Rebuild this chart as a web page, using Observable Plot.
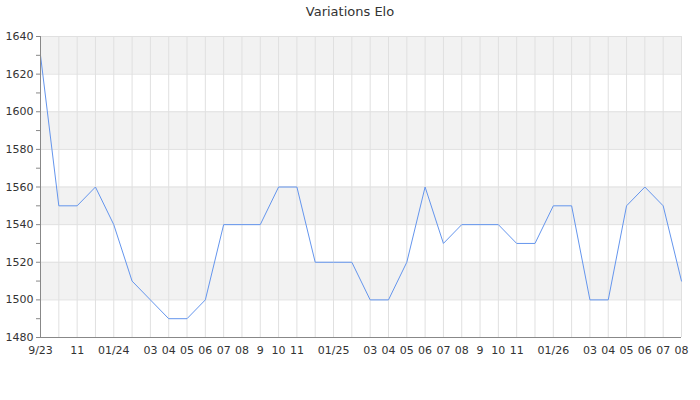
<!DOCTYPE html>
<html>
<head>
<meta charset="utf-8">
<script src="https://cdn.jsdelivr.net/npm/d3@7"></script>
<script src="https://cdn.jsdelivr.net/npm/@observablehq/plot@0.6"></script>
<style>
  body { margin: 0; background: #fff; font-family: "DejaVu Sans", sans-serif; }
  #title { height: 24px; line-height: 24px; text-align: center; font-size: 13px; color: #333; }
</style>
</head>
<body>
<div id="title">Variations Elo</div>
<div id="chart"></div>
<script>
const months = [
  "2023-09", "2023-10", "2023-11", "2023-12",
  "2024-01", "2024-02", "2024-03", "2024-04", "2024-05", "2024-06",
  "2024-07", "2024-08", "2024-09", "2024-10", "2024-11", "2024-12",
  "2025-01", "2025-02", "2025-03", "2025-04", "2025-05", "2025-06",
  "2025-07", "2025-08", "2025-09", "2025-10", "2025-11", "2025-12",
  "2026-01", "2026-02", "2026-03", "2026-04", "2026-05", "2026-06",
  "2026-07", "2026-08"
];
const elo = [
  1630, 1550, 1550, 1560,
  1540, 1510, 1500, 1490, 1490, 1500,
  1540, 1540, 1540, 1560, 1560, 1520,
  1520, 1520, 1500, 1500, 1520, 1560,
  1530, 1540, 1540, 1540, 1530, 1530,
  1550, 1550, 1500, 1500, 1550, 1560,
  1550, 1510
];
const tickLabels = [
  "9/23", "", "11", "",
  "01/24", "", "03", "04", "05", "06",
  "07", "08", "9", "10", "11", "",
  "01/25", "", "03", "04", "05", "06",
  "07", "08", "9", "10", "11", "",
  "01/26", "", "03", "04", "05", "06",
  "07", "08"
];
const yTicks = [1480, 1500, 1520, 1540, 1560, 1580, 1600, 1620, 1640];
const yMinor = [1490, 1510, 1530, 1550, 1570, 1590, 1610, 1630];
const bandLow = [1500, 1540, 1580, 1620];
const bandHigh = [1520, 1560, 1600, 1640];

const data = months.map((m, i) => ({month: m, elo: elo[i]}));
const bands = bandLow.map((lo, i) => ({lo, hi: bandHigh[i]}));
const labelOf = new Map(months.map((m, i) => [m, tickLabels[i]]));

const chart = Plot.plot({
  width: 700,
  height: 376,
  marginLeft: 40,
  marginRight: 19,
  marginTop: 12,
  marginBottom: 63,
  style: {fontFamily: "DejaVu Sans, sans-serif", fontSize: "11px", color: "#333", background: "#fff"},
  // point scales round to whole pixels by default, which pushed the first month off the axis
  x: {type: "point", domain: months, padding: 0, round: false, axis: null, label: null},
  y: {domain: [1480, 1640], axis: null, label: null},
  marks: [
    Plot.rect(bands, {y1: "lo", y2: "hi", fill: "#f2f2f2"}),
    Plot.ruleX(months, {stroke: "#e0e0e0", strokeWidth: 1}),
    Plot.ruleY(yTicks, {stroke: "#e0e0e0", strokeWidth: 1}),
    Plot.line(data, {x: "month", y: "elo", stroke: "#6495ed", strokeWidth: 1}),
    Plot.ruleY([1480], {stroke: "#888"}),
    Plot.ruleX([months[0]], {stroke: "#888"}),
    Plot.axisY({ticks: yTicks, tickSize: 4, tickPadding: 3, stroke: "#888", fill: "#333", label: null, tickFormat: d3.format("d")}),
    Plot.axisY({ticks: yMinor, tickSize: 4, label: null, tickFormat: () => "", stroke: "#888"}),
    Plot.axisX({ticks: months, tickSize: 0, tickPadding: 9, fill: "#333", label: null, tickFormat: (m) => labelOf.get(m)})
  ]
});
document.getElementById("chart").append(chart);
</script>
</body>
</html>
